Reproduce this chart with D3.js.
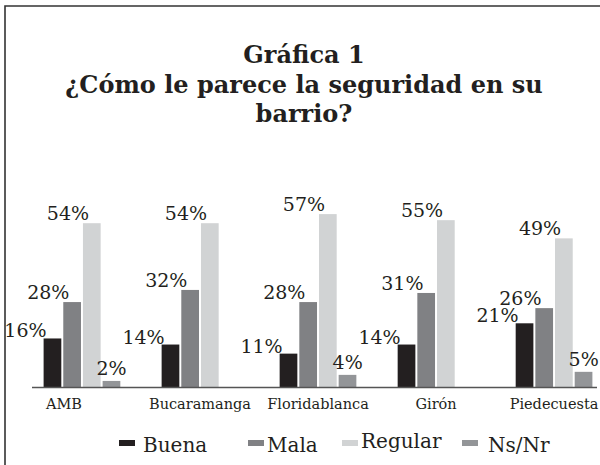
<!DOCTYPE html>
<html>
<head>
<meta charset="utf-8">
<script src="https://cdn.jsdelivr.net/npm/d3@7"></script>
<style>
  body { margin: 0; background: #fff; }
  svg { display: block; }
  text { font-family: "DejaVu Serif", serif; fill: #231f20; }
</style>
</head>
<body>
<svg id="chart" width="600" height="465"></svg>
<script>
const titleLines = ["Gráfica 1", "¿Cómo le parece la seguridad en su", "barrio?"];
const categories = ["AMB", "Bucaramanga", "Floridablanca", "Girón", "Piedecuesta"];
const seriesNames = ["Buena", "Mala", "Regular", "Ns/Nr"];
const buena = [16, 14, 11, 14, 21];
const mala = [28, 32, 28, 31, 26];
const regular = [54, 54, 57, 55, 49];
const nsnr = [2, null, 4, null, 5];
const colors = ["#231f20", "#808184", "#d1d3d4", "#939598"];

const seriesValues = [buena, mala, regular, nsnr];
const width = 600, height = 465;
const baseY = 387;

const svg = d3.select("#chart");

// frame (top and left only)
svg.append("path")
  .attr("d", `M5,${height} V6 H${width}`)
  .attr("fill", "none")
  .attr("stroke", "#333")
  .attr("stroke-width", 1.6);

// title
svg.append("g").selectAll("text")
  .data(titleLines)
  .enter().append("text")
  .attr("x", 304)
  .attr("y", (d, i) => 63 + i * 29.5)
  .attr("text-anchor", "middle")
  .style("font-weight", "bold")
  .style("font-size", "24px")
  .text(d => d);

let x0 = d3.scaleBand()
  .domain(categories)
  .range([20, 616])
  .paddingInner(0.35)
  .paddingOuter(0.2);

let x1 = d3.scaleBand()
  .domain(seriesNames)
  .range([0, x0.bandwidth()])
  .paddingInner(0.1);

let y = d3.scaleLinear()
  .domain([0, 60])
  .range([baseY, baseY - 182]);

let data = [];
categories.forEach((c, i) => {
  seriesNames.forEach((s, j) => {
    let v = seriesValues[j][i];
    if (v !== null) data.push({ cat: c, series: s, value: v, idx: j });
  });
});

let bars = svg.append("g");
bars.selectAll("rect")
  .data(data)
  .enter().append("rect")
  .attr("x", d => x0(d.cat) + x1(d.series))
  .attr("y", d => y(d.value))
  .attr("width", x1.bandwidth())
  .attr("height", d => y(0) - y(d.value))
  .attr("fill", d => colors[d.idx]);

// value labels: Buena right-aligned by the bar, Mala/Regular shifted left, Ns/Nr to the right
bars.selectAll("text")
  .data(data)
  .enter().append("text")
  .attr("x", d => {
    let left = x0(d.cat) + x1(d.series);
    if (d.idx === 0) return left + 3;
    if (d.idx === 3) return left + 9;
    return left - 15;
  })
  .attr("y", d => y(d.value) - (d.idx === 3 ? 6 : d.idx === 0 ? 1 : 3))
  .attr("text-anchor", d => d.idx === 0 ? "end" : "middle")
  .style("font-size", "19px")
  .text(d => d.value + "%");

// axis
let xAxis = d3.axisBottom(x0).tickSize(0).tickPadding(12);
let axisG = svg.append("g")
  .attr("transform", `translate(0, ${baseY})`)
  .call(xAxis);
axisG.select(".domain").remove();
axisG.selectAll("text")
  .attr("dx", (d, i) => i === 0 ? -18 : 0)
  .style("font-size", "14.5px")
  .style("font-family", "DejaVu Serif, serif")
  .attr("fill", "#231f20");
svg.append("line")
  .attr("x1", 32).attr("x2", 597)
  .attr("y1", baseY + 0.5).attr("y2", baseY + 0.5)
  .attr("stroke", "#555")
  .attr("stroke-width", 1.5);

// legend
const legendX = [119, 248, 342, 462];
let legend = svg.append("g").selectAll("g")
  .data(seriesNames)
  .enter().append("g")
  .attr("transform", (d, i) => `translate(${legendX[i]}, 440)`);
legend.append("rect")
  .attr("width", 16)
  .attr("height", 6)
  .attr("fill", (d, i) => colors[i]);
legend.append("text")
  .attr("x", (d, i) => i === 3 ? 26 : (i === 0 ? 24 : 19))
  .attr("y", (d, i) => i === 2 ? 8 : 12)
  .style("font-size", "20px")
  .text(d => d);
</script>
</body>
</html>
